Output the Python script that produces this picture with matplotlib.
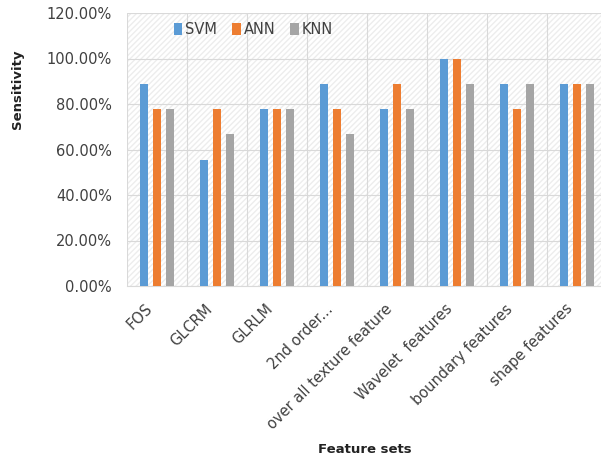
import numpy as np
import matplotlib.pyplot as plt
from matplotlib.ticker import PercentFormatter

plt.rcParams['font.family'] = ['DejaVu Sans']

feature_sets = ['FOS', 'GLCRM', 'GLRLM', '2nd order...', 'over all texture feature',
                'Wavelet  features', 'boundary features', 'shape features']
svm = [88.89, 55.56, 77.78, 88.89, 77.78, 100.0, 88.89, 88.89]
ann = [77.78, 77.78, 77.78, 77.78, 88.89, 100.0, 77.78, 88.89]
knn = [77.78, 66.67, 77.78, 66.67, 77.78, 88.89, 88.89, 88.89]

colors = ['#5B9BD5', '#ED7D31', '#A5A5A5']
txt = '#404040'

fig = plt.figure(figsize=(6.01, 4.66), dpi=100)
ax = fig.add_axes([127 / 601, 1 - 286 / 466, 480 / 601, 273 / 466])

x = np.arange(len(feature_sets))
w = 0.135
step = 0.21
for k, (vals, name) in enumerate(zip([svm, ann, knn], ['SVM', 'ANN', 'KNN'])):
    ax.bar(x + (k - 1) * step, vals, width=w, color=colors[k], label=name, zorder=3)

# light textured background behind the grid
ax.add_patch(plt.Rectangle((0, 0), 1, 1, transform=ax.transAxes, facecolor='none',
                           edgecolor='#ededed', hatch='//////', lw=0, zorder=0))
ax.set_xlim(-0.5, len(feature_sets) - 0.5)
ax.set_ylim(0, 120)
ax.set_yticks(np.arange(0, 121, 20))
ax.yaxis.set_major_formatter(PercentFormatter(decimals=2))
ax.set_xticks(np.arange(len(feature_sets) + 1) - 0.5)
ax.set_xticklabels([])
# rotated category labels, anchored a little left of each group centre
ax.set_xticks(x - 0.2, minor=True)
ax.set_xticklabels(feature_sets, minor=True, rotation=45, ha='right', va='top',
                   rotation_mode='anchor', fontsize=10.5, color=txt)
ax.tick_params(axis='x', which='both', length=0, pad=11)
ax.tick_params(axis='y', length=0, labelsize=10.5, labelcolor=txt, pad=11)
ax.grid(True, which='major', color='#d9d9d9', lw=0.8, zorder=1)
for s in ['top', 'right', 'left']:
    ax.spines[s].set_visible(False)
ax.spines['bottom'].set_color('#d9d9d9')

ax.set_ylabel('Sensitivity', fontsize=9.5, fontweight='bold', color='#222222')
ax.yaxis.set_label_coords(-103 / 480, 0.72)
ax.set_xlabel('Feature sets', fontsize=9.5, fontweight='bold', color='#222222')
ax.xaxis.set_label_coords((365 - 127) / 480, -(443 - 286) / 273)

ax.legend(loc='upper left', bbox_to_anchor=(0.07, 1.015), ncol=3, frameon=False,
          fontsize=10.5, handlelength=0.6, handleheight=0.8, handletextpad=0.2,
          columnspacing=1.0, labelcolor=txt)

fig.savefig('out.png', dpi=100)
